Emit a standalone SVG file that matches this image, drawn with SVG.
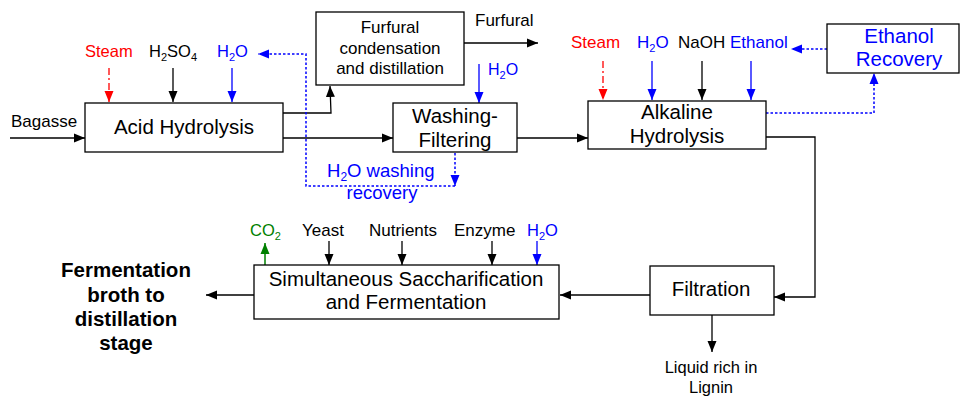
<svg xmlns="http://www.w3.org/2000/svg" width="961" height="396" viewBox="0 0 961 396">
<style>
text{font-family:"Liberation Sans",Arial,sans-serif;fill:#000}
.box{fill:#fff;stroke:#000;stroke-width:1.3}
.bt{font-size:20.5px;text-anchor:middle}
.lb{font-size:17px}
.blue{fill:#0000ff}
.red{fill:#ff0000}
.green{fill:#008000}
.ln{fill:none;stroke:#000;stroke-width:1.3}
.lnb{fill:none;stroke:#0000ff;stroke-width:1.3}
.dot{fill:none;stroke:#0000ff;stroke-width:1.5;stroke-dasharray:2.5 2}
.dd{fill:none;stroke:#ff0000;stroke-width:1.3;stroke-dasharray:7 3 2 3}
.lng{fill:none;stroke:#008000;stroke-width:1.5}
</style>
<defs>
<marker id="ak" markerUnits="userSpaceOnUse" markerWidth="12" markerHeight="10" refX="11" refY="5" orient="auto"><path d="M0,0.5 L11,5 L0,9.5 z" fill="#000"/></marker>
<marker id="ab" markerUnits="userSpaceOnUse" markerWidth="12" markerHeight="10" refX="11" refY="5" orient="auto"><path d="M0,0.5 L11,5 L0,9.5 z" fill="#0000ff"/></marker>
<marker id="ar" markerUnits="userSpaceOnUse" markerWidth="12" markerHeight="10" refX="11" refY="5" orient="auto"><path d="M0,0.5 L11,5 L0,9.5 z" fill="#ff0000"/></marker>
<marker id="ag" markerUnits="userSpaceOnUse" markerWidth="12" markerHeight="10" refX="11" refY="5" orient="auto"><path d="M0,0.5 L11,5 L0,9.5 z" fill="#008000"/></marker>
</defs>

<g id="connectors">
  <line class="ln" x1="10" y1="138" x2="85" y2="138" marker-end="url(#ak)"/>
  <line class="dd" x1="109" y1="68" x2="109" y2="102" marker-end="url(#ar)"/>
  <line class="ln" x1="173" y1="68" x2="173" y2="102" marker-end="url(#ak)"/>
  <line class="lnb" x1="232" y1="68" x2="232" y2="102" marker-end="url(#ab)"/>
  <polyline class="ln" points="283,113 331,113 330,86" marker-end="url(#ak)"/>
  <line class="ln" x1="283" y1="138" x2="393" y2="138" marker-end="url(#ak)"/>
  <line class="ln" x1="464" y1="43" x2="538" y2="43" marker-end="url(#ak)"/>
  <line class="lnb" x1="479" y1="64" x2="479" y2="103" marker-end="url(#ab)"/>
  <line class="dot" x1="455" y1="153" x2="455" y2="186" marker-end="url(#ab)"/>
  <polyline class="dot" points="455,186 306,186 306,54 258,54" marker-end="url(#ab)"/>
  <line class="ln" x1="517" y1="138" x2="588" y2="138" marker-end="url(#ak)"/>
  <line class="dd" x1="603" y1="61" x2="603" y2="100" marker-end="url(#ar)"/>
  <line class="lnb" x1="652" y1="61" x2="652" y2="100" marker-end="url(#ab)"/>
  <line class="ln" x1="702" y1="61" x2="702" y2="100" marker-end="url(#ak)"/>
  <line class="lnb" x1="751" y1="61" x2="751" y2="100" marker-end="url(#ab)"/>
  <polyline class="dot" points="766,113 874,113 874,73" marker-end="url(#ab)"/>
  <line class="dot" x1="827" y1="49" x2="791" y2="49" marker-end="url(#ab)"/>
  <polyline class="ln" points="766,137 815,137 815,297 774,297" marker-end="url(#ak)"/>
  <line class="ln" x1="712" y1="315" x2="712" y2="352" marker-end="url(#ak)"/>
  <line class="ln" x1="650" y1="295" x2="560" y2="295" marker-end="url(#ak)"/>
  <line class="ln" x1="254" y1="295" x2="206" y2="295" marker-end="url(#ak)"/>
  <line class="lng" x1="265" y1="265" x2="265" y2="243" marker-end="url(#ag)"/>
  <line class="ln" x1="329" y1="241" x2="329" y2="265" marker-end="url(#ak)"/>
  <line class="ln" x1="402" y1="241" x2="402" y2="265" marker-end="url(#ak)"/>
  <line class="ln" x1="492" y1="241" x2="492" y2="265" marker-end="url(#ak)"/>
  <line class="lnb" x1="537" y1="241" x2="537" y2="265" marker-end="url(#ab)"/>
</g>

<g id="acid-hydrolysis">
  <rect class="box" x="85" y="103" width="198" height="49"/>
  <text class="bt" x="184" y="134">Acid Hydrolysis</text>
</g>
<g id="furfural-box">
  <rect class="box" x="316" y="12" width="148" height="73"/>
  <text class="bt" x="390" y="33" style="font-size:17px">Furfural</text>
  <text class="bt" x="390" y="53.5" style="font-size:17px">condensation</text>
  <text class="bt" x="390" y="74" style="font-size:17px">and distillation</text>
</g>
<g id="washing-filtering">
  <rect class="box" x="393" y="103" width="124" height="49"/>
  <text class="bt" x="455" y="123">Washing-</text>
  <text class="bt" x="455" y="147">Filtering</text>
</g>
<g id="alkaline-hydrolysis">
  <rect class="box" x="588" y="101" width="178" height="48"/>
  <text class="bt" x="677" y="119">Alkaline</text>
  <text class="bt" x="677" y="143">Hydrolysis</text>
</g>
<g id="ethanol-recovery">
  <rect class="box" x="827" y="24" width="132" height="49"/>
  <text class="bt blue" x="899" y="43">Ethanol</text>
  <text class="bt blue" x="899" y="66">Recovery</text>
</g>
<g id="filtration">
  <rect class="box" x="650" y="266" width="124" height="49"/>
  <text class="bt" x="711" y="296">Filtration</text>
</g>
<g id="ssf">
  <rect class="box" x="254" y="265" width="305" height="54"/>
  <text class="bt" x="406" y="286">Simultaneous Saccharification</text>
  <text class="bt" x="406" y="309">and Fermentation</text>
</g>

<g id="labels">
  <text class="lb" x="11" y="127">Bagasse</text>
  <text class="lb red" x="85" y="57" style="font-size:16.5px">Steam</text>
  <text class="lb" x="149" y="57" style="font-size:16.5px">H<tspan font-size="11" dy="4">2</tspan><tspan dy="-4">SO</tspan><tspan font-size="11" dy="4">4</tspan></text>
  <text class="lb blue" x="217" y="57" style="font-size:16.5px">H<tspan font-size="11" dy="4">2</tspan><tspan dy="-4">O</tspan></text>
  <text class="lb" x="475" y="26">Furfural</text>
  <text class="lb blue" x="488" y="75" style="font-size:16px">H<tspan font-size="11" dy="4">2</tspan><tspan dy="-4">O</tspan></text>
  <text class="blue" x="327" y="177" style="font-size:18.5px">H<tspan font-size="12" dy="4">2</tspan><tspan dy="-4">O washing</tspan></text>
  <text class="blue" x="382" y="199" style="font-size:18.5px;text-anchor:middle">recovery</text>
  <text class="lb red" x="571" y="48">Steam</text>
  <text class="lb blue" x="637" y="48">H<tspan font-size="11" dy="4">2</tspan><tspan dy="-4">O</tspan></text>
  <text class="lb" x="678" y="48">NaOH</text>
  <text class="lb blue" x="730" y="48">Ethanol</text>
  <text class="lb green" x="250" y="236" style="font-size:16.5px">CO<tspan font-size="11" dy="4">2</tspan></text>
  <text class="lb" x="302" y="236">Yeast</text>
  <text class="lb" x="369" y="236">Nutrients</text>
  <text class="lb" x="454" y="236">Enzyme</text>
  <text class="lb blue" x="527" y="236" style="font-size:16.5px">H<tspan font-size="11" dy="4">2</tspan><tspan dy="-4">O</tspan></text>
  <text x="711" y="373" style="font-size:16.5px;text-anchor:middle">Liquid rich in</text>
  <text x="711" y="393" style="font-size:16.5px;text-anchor:middle">Lignin</text>
  <g style="font-size:20.5px;font-weight:bold;text-anchor:middle">
    <text x="126" y="277">Fermentation</text>
    <text x="126" y="302">broth to</text>
    <text x="126" y="326">distillation</text>
    <text x="126" y="350">stage</text>
  </g>
</g>
</svg>
